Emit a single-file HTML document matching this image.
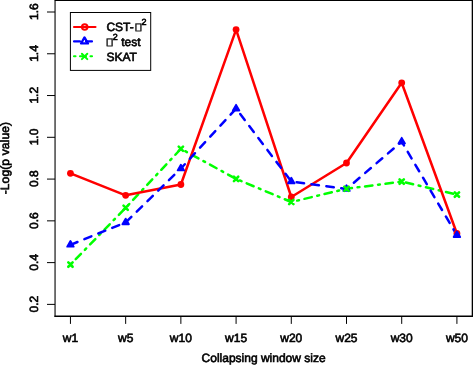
<!DOCTYPE html>
<html><head><meta charset="utf-8"><title>Collapsing window size</title>
<style>
html,body{margin:0;padding:0;background:#fff;}
body{width:473px;height:365px;overflow:hidden;}
svg{display:block;will-change:transform;}
text{font-family:"Liberation Sans",sans-serif;font-size:12px;fill:#000;stroke:#000;stroke-width:0.6px;text-rendering:geometricPrecision;}
.tf{font-family:"DejaVu Sans","Liberation Sans",sans-serif;}
</style></head><body>
<svg width="473" height="365" viewBox="0 0 473 365">
<rect x="0" y="0" width="473" height="365" fill="#fff"/>

<g fill="none" stroke="#000">
<path d="M54.8 0.5 H473" stroke-width="1"/>
<path d="M472.35 0 V316.9" stroke-width="1.3"/>
<path d="M54.5 316.15 H473" stroke-width="1.5"/>
<path d="M55.05 0 V316.9" stroke-width="1.1"/>
</g>
<g fill="none" stroke="#000" stroke-width="1">
<path d="M47 12.00 H55"/>
<path d="M47 53.77 H55"/>
<path d="M47 95.54 H55"/>
<path d="M47 137.31 H55"/>
<path d="M47 179.08 H55"/>
<path d="M47 220.85 H55"/>
<path d="M47 262.62 H55"/>
<path d="M47 304.39 H55"/>
<path d="M70.45 316.2 V323.9"/>
<path d="M125.66 316.2 V323.9"/>
<path d="M180.87 316.2 V323.9"/>
<path d="M236.08 316.2 V323.9"/>
<path d="M291.29 316.2 V323.9"/>
<path d="M346.50 316.2 V323.9"/>
<path d="M401.71 316.2 V323.9"/>
<path d="M456.92 316.2 V323.9"/>
</g>
<text transform="translate(37.7,11.70) rotate(-90)" text-anchor="middle">1.6</text>
<text transform="translate(37.7,53.47) rotate(-90)" text-anchor="middle">1.4</text>
<text transform="translate(37.7,95.24) rotate(-90)" text-anchor="middle">1.2</text>
<text transform="translate(37.7,137.01) rotate(-90)" text-anchor="middle">1.0</text>
<text transform="translate(37.7,178.78) rotate(-90)" text-anchor="middle">0.8</text>
<text transform="translate(37.7,220.55) rotate(-90)" text-anchor="middle">0.6</text>
<text transform="translate(37.7,262.32) rotate(-90)" text-anchor="middle">0.4</text>
<text transform="translate(37.7,304.09) rotate(-90)" text-anchor="middle">0.2</text>
<text x="70.45" y="342" text-anchor="middle">w1</text>
<text x="125.66" y="342" text-anchor="middle">w5</text>
<text x="180.87" y="342" text-anchor="middle">w10</text>
<text x="236.08" y="342" text-anchor="middle">w15</text>
<text x="291.29" y="342" text-anchor="middle">w20</text>
<text x="346.50" y="342" text-anchor="middle">w25</text>
<text x="401.71" y="342" text-anchor="middle">w30</text>
<text x="456.92" y="342" text-anchor="middle">w50</text>
<text x="263.6" y="362" text-anchor="middle">Collapsing window size</text>
<text transform="translate(9.4,158.1) rotate(-90)" text-anchor="middle" style="letter-spacing:0.14px">-Log(p value)</text>
<g fill="none" stroke-width="2.5" stroke-linecap="round" stroke-linejoin="round">
<polyline points="70.5,264.6 125.7,207.8 180.9,148.8 236.1,178.9 291.3,202.0 346.5,188.8 401.7,181.6 456.9,194.6" stroke="#00ff00" stroke-dasharray="1.875 5.625 7.5 5.625"/>
<polyline points="70.5,173.3 125.7,195.3 180.9,184.5 236.1,29.6 291.3,197.0 346.5,163.0 401.7,82.8 456.9,233.5" stroke="#ff0000"/>
<polyline points="70.5,244.8 125.7,222.4 180.9,168.5 236.1,108.6 291.3,181.5 346.5,189.0 401.7,141.6 456.9,235.2" stroke="#0000ff" stroke-dasharray="7.5 7.5"/>
</g>
<g fill="#ff0000" stroke="none">
<circle cx="70.45" cy="173.30" r="3.4"/>
<circle cx="125.66" cy="195.30" r="3.4"/>
<circle cx="180.87" cy="184.50" r="3.4"/>
<circle cx="236.08" cy="29.55" r="3.4"/>
<circle cx="291.29" cy="197.00" r="3.4"/>
<circle cx="346.50" cy="163.00" r="3.4"/>
<circle cx="401.71" cy="82.80" r="3.4"/>
<circle cx="456.92" cy="233.50" r="3.4"/>
</g>
<g fill="#0000ff" stroke="#0000ff" stroke-width="1.9" stroke-linejoin="round">
<path d="M70.45 241.07 L73.68 246.67 L67.22 246.67 Z"/>
<path d="M125.66 218.67 L128.89 224.27 L122.43 224.27 Z"/>
<path d="M180.87 164.77 L184.10 170.37 L177.64 170.37 Z"/>
<path d="M236.08 104.87 L239.31 110.47 L232.85 110.47 Z"/>
<path d="M291.29 177.77 L294.52 183.37 L288.06 183.37 Z"/>
<path d="M346.50 185.27 L349.73 190.87 L343.27 190.87 Z"/>
<path d="M401.71 137.87 L404.94 143.47 L398.48 143.47 Z"/>
<path d="M456.92 231.47 L460.15 237.07 L453.69 237.07 Z"/>
</g>
<g fill="none" stroke="#00ff00" stroke-width="2.6" stroke-linecap="round">
<path d="M68.30 262.45 L72.60 266.75 M68.30 266.75 L72.60 262.45"/>
<path d="M123.51 205.65 L127.81 209.95 M123.51 209.95 L127.81 205.65"/>
<path d="M178.72 146.65 L183.02 150.95 M178.72 150.95 L183.02 146.65"/>
<path d="M233.93 176.75 L238.23 181.05 M233.93 181.05 L238.23 176.75"/>
<path d="M289.14 199.85 L293.44 204.15 M289.14 204.15 L293.44 199.85"/>
<path d="M344.35 186.65 L348.65 190.95 M344.35 190.95 L348.65 186.65"/>
<path d="M399.56 179.45 L403.86 183.75 M399.56 183.75 L403.86 179.45"/>
<path d="M454.77 192.45 L459.07 196.75 M454.77 196.75 L459.07 192.45"/>
</g>
<rect x="70.4" y="12.5" width="80.3" height="57.9" fill="#fff" stroke="#000" stroke-width="1"/>
<g fill="none" stroke-width="2.1" stroke-linecap="round">
<path d="M74 27 H95.5" stroke="#ff0000"/>
<path d="M74 41.4 H80 M86 41.4 H92" stroke="#0000ff"/>
<path d="M74 56.3 H75.5 M80 56.3 H86 M90.5 56.3 H92" stroke="#00ff00"/>
</g>
<circle cx="84.7" cy="27" r="2.75" fill="none" stroke="#ff0000" stroke-width="2.0"/>
<g fill="none" stroke="#0000ff" stroke-width="2.3" stroke-linejoin="round"><path d="M84.50 37.41 L88.00 43.47 L81.00 43.47 Z"/></g>
<g fill="none" stroke="#00ff00" stroke-width="2.0" stroke-linecap="round"><path d="M81.90 53.70 L87.30 59.10 M81.90 59.10 L87.30 53.70"/></g>
<text x="106.4" y="31">CST-</text>
<text class="tf" transform="translate(133.95,30.3) scale(1.6,1)" style="font-size:10px;stroke-width:0.2px">▯</text>
<text x="141.5" y="25.4" style="font-size:9px">2</text>
<text class="tf" transform="translate(105.35,45.3) scale(1.6,1)" style="font-size:10px;stroke-width:0.2px">▯</text>
<text x="112.8" y="40.4" style="font-size:9px">2</text>
<text x="121.2" y="46.1">test</text>
<text x="106.4" y="61">SKAT</text>
</svg></body></html>
